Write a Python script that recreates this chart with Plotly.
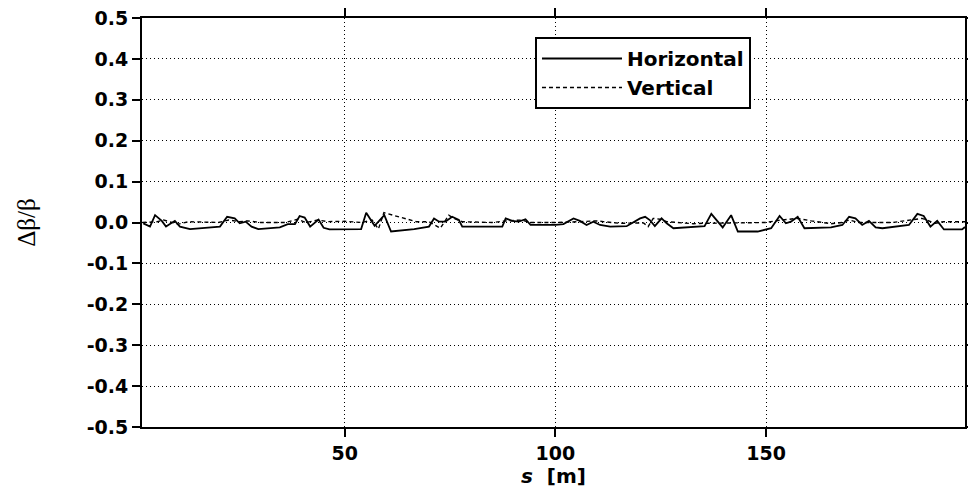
import plotly.graph_objects as go

# Horizontal beta-beat (s [m], dBeta/Beta)
s_h = [2.2, 3.8, 5.0, 6.6, 7.6, 9.7, 10.9, 13.3, 20.4, 22.1, 23.9, 25.1, 26.5, 27.9, 29.5, 34.6,
       36.5, 38.2, 39.3, 40.5, 41.8, 43.8, 45.0, 46.4, 53.9, 55.1, 57.1, 59.4, 61.0, 66.5,
       70.0, 71.2, 72.4, 73.9, 75.5, 77.1, 77.9, 87.4, 88.2, 89.7, 91.3, 92.9, 94.1, 100.0,
       101.9, 104.3, 105.8, 107.4, 109.0, 110.6, 113.0, 116.9, 120.1, 121.3, 122.4, 123.6,
       125.2, 126.4, 128.0, 132.7, 135.4, 137.0, 139.7, 141.7, 143.3, 148.0, 151.2, 153.2,
       154.7, 155.9, 157.5, 159.1, 165.4, 168.1, 169.7, 171.2, 172.8, 174.4, 176.0, 177.6,
       183.9, 185.9, 187.4, 189.0, 190.6, 192.2, 196.5, 197.2]
d_h = [-0.002, -0.010, 0.018, 0.004, -0.010, 0.004, -0.010, -0.016, -0.010, 0.014, 0.010, -0.002,
       0.002, -0.010, -0.016, -0.012, -0.004, -0.004, 0.016, 0.012, -0.010, 0.007, -0.013, -0.017,
       -0.016, 0.024, -0.008, 0.018, -0.022, -0.016, -0.010, 0.010, 0.002, 0.002, 0.014, 0.006,
       -0.010, -0.010, 0.010, 0.004, 0.002, 0.008, -0.006, -0.006, -0.004, 0.010, 0.004, -0.006,
       0.002, -0.006, -0.010, -0.009, 0.010, 0.014, 0.006, -0.009, 0.010, -0.002, -0.014, -0.011,
       -0.009, 0.021, -0.012, 0.018, -0.022, -0.022, -0.014, 0.016, -0.002, 0.002, 0.014, -0.014,
       -0.012, -0.006, 0.014, 0.010, -0.006, 0.004, -0.012, -0.014, -0.006, 0.021, 0.016, -0.010,
       0.004, -0.017, -0.017, -0.011]

# Vertical beta-beat
s_v = [2.0, 5.5, 7.0, 9.0, 10.5, 13.0, 20.0, 22.5, 25.0, 27.0, 30.0, 34.0, 36.0, 38.8, 40.8,
       43.6, 46.0, 50.0, 54.0, 56.5, 58.0, 59.3, 61.5, 64.0, 67.0, 70.0, 71.2, 72.7, 74.7, 75.9,
       77.9, 85.0, 88.5, 92.0, 94.0, 100.0, 105.8, 109.8, 111.4, 115.3, 120.9, 122.0, 123.2,
       124.8, 126.4, 132.7, 135.0, 150.0, 153.5, 157.5, 160.7, 165.4, 168.0, 169.7, 172.0,
       180.0, 187.0, 188.6, 190.2, 192.0, 197.2]
d_v = [0.000, 0.002, 0.006, 0.000, -0.004, 0.002, 0.000, 0.006, 0.002, 0.004, 0.000, 0.000,
       0.000, 0.008, 0.000, 0.006, 0.002, 0.003, 0.000, 0.006, -0.016, 0.024, 0.018, 0.012,
       0.002, 0.002, -0.006, -0.014, 0.018, 0.010, 0.002, 0.000, 0.004, 0.006, 0.000, 0.000,
       0.002, 0.004, 0.002, -0.002, -0.001, -0.010, 0.010, 0.008, 0.002, -0.003, -0.002, 0.000,
       0.006, 0.010, 0.004, -0.003, 0.000, 0.006, 0.000, 0.000, 0.010, 0.004, -0.002, 0.002,
       0.002]

x_ticks = [50, 100, 150]
y_ticks = [0.5, 0.4, 0.3, 0.2, 0.1, 0.0, -0.1, -0.2, -0.3, -0.4, -0.5]
y_tick_text = ["0.5", "0.4", "0.3", "0.2", "0.1", "0.0", "-0.1", "-0.2", "-0.3", "-0.4", "-0.5"]

fig = go.Figure()
fig.add_trace(go.Scatter(x=s_h, y=d_h, mode="lines", name="Horizontal",
                         line=dict(color="black", width=1.8)))
fig.add_trace(go.Scatter(x=s_v, y=d_v, mode="lines", name="Vertical",
                         line=dict(color="black", width=1.4, dash="4px,3px")))

tickfont = dict(family="DejaVu Sans", size=19, color="black", weight="bold")

fig.update_layout(
    width=968, height=491,
    margin=dict(l=142, r=3, t=18, b=64),
    paper_bgcolor="white", plot_bgcolor="white",
    showlegend=True,
    legend=dict(x=0.4775, y=0.9535, xanchor="left", yanchor="top",
                bgcolor="white", bordercolor="black", borderwidth=2,
                font=dict(family="DejaVu Sans", size=20, color="black", weight="bold"),
                tracegroupgap=0, itemwidth=80),
    xaxis=dict(range=[1.9, 197.2], tickvals=x_ticks, ticks="outside", ticklen=8,
               tickwidth=2, tickcolor="black", showline=True, linecolor="black",
               linewidth=2, mirror="ticks", showgrid=True, gridcolor="black",
               griddash="1px,3px", gridwidth=1.3, zeroline=False, tickfont=tickfont,
               automargin=False,
               title=dict(text="<i>s</i>  [m]", standoff=6,
                          font=dict(family="DejaVu Sans", size=20, color="black",
                                    weight="bold"))),
    yaxis=dict(range=[-0.5, 0.5], tickvals=y_ticks, ticktext=y_tick_text,
               ticks="outside", ticklen=8, tickwidth=2, tickcolor="black",
               showline=True, linecolor="black", linewidth=2, mirror="ticks",
               showgrid=True, gridcolor="black", griddash="1px,3px", gridwidth=1.3,
               zeroline=False, tickfont=tickfont, automargin=False,
               title=dict(text="Δβ/β", standoff=44,
                          font=dict(family="Liberation Serif", size=25, color="black"))),
)

fig.write_html("out.html")
